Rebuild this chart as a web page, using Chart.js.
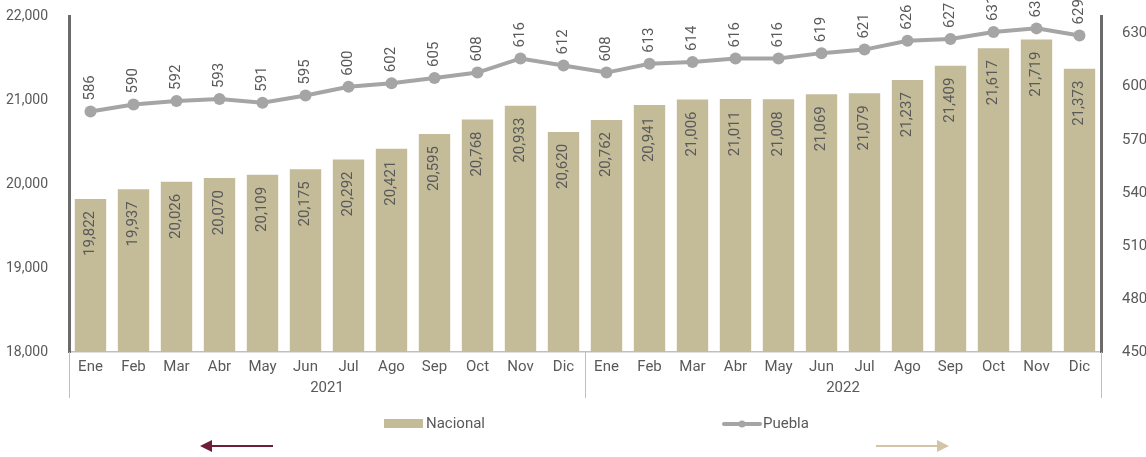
<!DOCTYPE html>
<html lang="es">
<head>
<meta charset="UTF-8">
<title>Nacional y Puebla</title>
<script src="https://cdn.jsdelivr.net/npm/chart.js"></script>
<style>
  html, body { margin: 0; padding: 0; background: #fff; }
  #wrap { width: 1146px; height: 457px; }
</style>
</head>
<body>
<div id="wrap"><canvas id="grafica" width="1146" height="457"></canvas></div>
<script>
// datos
const meses = ["Ene", "Feb", "Mar", "Abr", "May", "Jun", "Jul", "Ago", "Sep", "Oct", "Nov", "Dic"];
const anios = ["2021", "2022"];
const nacional2021 = [19822, 19937, 20026, 20070, 20109, 20175, 20292, 20421, 20595, 20768, 20933, 20620];
const nacional2022 = [20762, 20941, 21006, 21011, 21008, 21069, 21079, 21237, 21409, 21617, 21719, 21373];
const puebla2021 = [586, 590, 592, 593, 591, 595, 600, 602, 605, 608, 616, 612];
const puebla2022 = [608, 613, 614, 616, 616, 619, 621, 626, 627, 631, 633, 629];
const ticksIzq = [18000, 19000, 20000, 21000, 22000];
const ticksDer = [450, 480, 510, 540, 570, 600, 630];

const FUENTE = 'Roboto, "Noto Sans", sans-serif';
const GRIS_TEXTO = '#595959';
const COLOR_BARRA = '#c4bb99';
const COLOR_LINEA = '#a5a5a5';

const etiquetasX = [...meses, ...meses];

// etiquetas de valor giradas
const etiquetas = {
  id: 'etiquetas',
  afterDatasetsDraw(chart) {
    const ctx = chart.ctx;
    ctx.save();
    ctx.font = '15px ' + FUENTE;
    ctx.fillStyle = GRIS_TEXTO;
    ctx.textBaseline = 'middle';
    chart.data.datasets.forEach((ds, i) => {
      const meta = chart.getDatasetMeta(i);
      meta.data.forEach((el, j) => {
        const txt = ds.data[j].toLocaleString('en-US');
        ctx.save();
        if (ds.type === 'line') {
          ctx.translate(el.x, el.y - 11);
          ctx.textAlign = 'left';
        } else {
          ctx.translate(el.x, el.y + 12);
          ctx.textAlign = 'right';
        }
        ctx.rotate(-Math.PI / 2);
        ctx.fillText(txt, 0, 0);
        ctx.restore();
      });
    });
    ctx.restore();
  }
};

// separadores de año, leyenda y flechas
const adornos = {
  id: 'adornos',
  afterDraw(chart) {
    const ctx = chart.ctx;
    const xs = chart.scales.x;
    const area = chart.chartArea;
    const paso = (xs.right - xs.left) / etiquetasX.length;
    ctx.save();
    ctx.strokeStyle = '#bfbfbf';
    ctx.lineWidth = 1;
    [0, 12, 24].forEach(k => {
      const x = Math.round(xs.left + k * paso) + 0.5;
      ctx.beginPath();
      ctx.moveTo(x, area.bottom);
      ctx.lineTo(x, area.bottom + 46);
      ctx.stroke();
    });
    ctx.font = '15px ' + FUENTE;
    ctx.fillStyle = GRIS_TEXTO;
    ctx.textAlign = 'center';
    ctx.textBaseline = 'middle';
    anios.forEach((a, k) => {
      ctx.fillText(a, xs.left + (k * 12 + 6) * paso, 388);
    });

    // leyenda
    ctx.textAlign = 'left';
    ctx.fillStyle = COLOR_BARRA;
    ctx.fillRect(384, 419, 39, 9);
    ctx.fillStyle = GRIS_TEXTO;
    ctx.fillText(chart.data.datasets[1].label, 426, 424);
    ctx.strokeStyle = COLOR_LINEA;
    ctx.lineWidth = 4;
    ctx.lineCap = 'round';
    ctx.beginPath();
    ctx.moveTo(724, 424);
    ctx.lineTo(760, 424);
    ctx.stroke();
    ctx.fillStyle = COLOR_LINEA;
    ctx.beginPath();
    ctx.arc(742, 424, 3.5, 0, Math.PI * 2);
    ctx.fill();
    ctx.fillStyle = GRIS_TEXTO;
    ctx.fillText(chart.data.datasets[0].label, 763, 424);

    // flechas
    function flecha(x0, x1, y, color) {
      const dir = Math.sign(x1 - x0);
      ctx.strokeStyle = color;
      ctx.fillStyle = color;
      ctx.lineWidth = 2;
      ctx.lineCap = 'butt';
      ctx.beginPath();
      ctx.moveTo(x0, y);
      ctx.lineTo(x1 - dir * 10, y);
      ctx.stroke();
      ctx.beginPath();
      ctx.moveTo(x1, y);
      ctx.lineTo(x1 - dir * 12, y - 6);
      ctx.lineTo(x1 - dir * 12, y + 6);
      ctx.closePath();
      ctx.fill();
    }
    flecha(273, 200, 446, '#6f1d3b');
    flecha(876, 949, 446, '#d3c4a6');
    ctx.restore();
  }
};

function ajusteVertical(ancho) {
  return s => {
    s.width = ancho;
    s.paddingTop = 0;
    s.paddingBottom = 0;
  };
}

new Chart(document.getElementById('grafica'), {
  type: 'bar',
  data: {
    labels: etiquetasX,
    datasets: [
      {
        type: 'line',
        label: 'Puebla',
        data: [...puebla2021, ...puebla2022],
        yAxisID: 'y1',
        borderColor: COLOR_LINEA,
        backgroundColor: COLOR_LINEA,
        borderWidth: 4,
        pointRadius: 6,
        pointBorderWidth: 0,
        tension: 0,
        order: 0
      },
      {
        type: 'bar',
        label: 'Nacional',
        data: [...nacional2021, ...nacional2022],
        yAxisID: 'y',
        backgroundColor: COLOR_BARRA,
        barPercentage: 0.73,
        categoryPercentage: 1,
        order: 1
      }
    ]
  },
  options: {
    responsive: false,
    animation: false,
    layout: { padding: { top: 16, left: 0, right: 0, bottom: 0 } },
    plugins: { legend: { display: false }, tooltip: { enabled: false } },
    scales: {
      x: {
        grid: { display: false },
        border: { color: '#bfbfbf', width: 1.5 },
        ticks: { color: GRIS_TEXTO, font: { family: FUENTE, size: 15 }, padding: -2, maxRotation: 0, autoSkip: false },
        afterFit(s) { s.height = 105; s.paddingLeft = 0; s.paddingRight = 0; }
      },
      y: {
        position: 'left',
        min: ticksIzq[0],
        max: ticksIzq[ticksIzq.length - 1],
        grid: { display: false },
        border: { color: '#6b6b6b', width: 3 },
        ticks: {
          color: GRIS_TEXTO, font: { family: FUENTE, size: 14 }, padding: 13,
          callback: v => v.toLocaleString('en-US')
        },
        afterBuildTicks(s) { s.ticks = ticksIzq.map(v => ({ value: v })); },
        afterFit: ajusteVertical(69)
      },
      y1: {
        position: 'right',
        min: ticksDer[0],
        max: 640,
        grid: { display: false },
        border: { color: '#6b6b6b', width: 3 },
        ticks: { color: GRIS_TEXTO, font: { family: FUENTE, size: 15 }, padding: 13 },
        afterBuildTicks(s) { s.ticks = ticksDer.map(v => ({ value: v })); },
        afterFit: ajusteVertical(45)
      }
    }
  },
  plugins: [etiquetas, adornos]
});
</script>
</body>
</html>
